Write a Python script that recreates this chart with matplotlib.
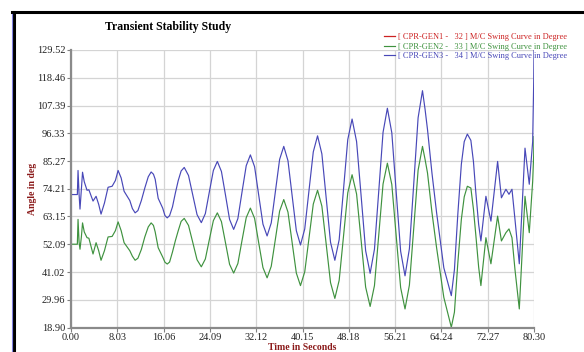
import matplotlib.pyplot as plt
from matplotlib.lines import Line2D

# time axis (s) and swing curves
time = [0.00, 1.10, 1.22, 1.40, 1.56, 1.80, 2.00, 2.30, 2.78, 3.10, 3.82, 4.35, 4.80, 5.21,
        5.80, 6.43, 7.13, 7.70, 8.17, 8.70, 9.21, 10.20, 10.65, 11.12, 11.60, 12.20, 12.80,
        13.40, 13.90, 14.30, 14.60, 15.12, 15.90, 16.30, 16.69, 17.10, 17.60, 18.10, 18.60,
        19.10, 19.64, 20.38, 21.12, 21.86, 22.60, 23.30, 23.99, 24.69, 25.38, 26.09, 26.80,
        27.50, 28.21, 28.94, 29.66, 30.39, 31.11, 31.84, 32.56, 33.29, 34.01, 34.73, 35.46,
        36.18, 36.90, 37.63, 38.35, 39.08, 39.80, 40.54, 41.28, 42.02, 42.76, 43.51, 44.26,
        45.01, 45.76, 46.51, 47.26, 48.00, 48.75, 49.53, 50.32, 51.10, 51.88, 52.63, 53.38,
        54.12, 54.87, 55.64, 56.40, 57.17, 57.93, 58.69, 59.45, 60.20, 60.96, 61.40, 61.83,
        62.60, 63.40, 64.66, 65.96, 66.50, 67.10, 67.70, 68.20, 68.74, 69.35, 69.80, 70.20,
        70.70, 71.09, 71.96, 72.83, 73.99, 74.65, 75.43, 75.96, 76.48, 77.00, 77.75, 78.74,
        79.48, 80.07, 80.25, 80.30]

gen3 = [71.9, 71.9, 81.5, 72.0, 66.1, 74.0, 80.8, 77.0, 73.6, 73.8, 69.3, 71.2, 68.0, 64.1,
        68.5, 74.8, 75.2, 77.5, 81.5, 78.5, 73.2, 69.5, 66.3, 64.6, 65.5, 69.5, 74.5,
        79.0, 80.9, 80.0, 78.0, 70.4, 66.5, 63.5, 62.6, 63.5, 67.0, 72.5, 77.5,
        81.3, 82.7, 79.5, 71.7, 63.9, 60.7, 64.3, 72.9, 81.5, 85.1, 81.1, 71.6,
        62.0, 58.0, 62.3, 72.9, 83.4, 87.7, 83.0, 71.6, 60.1, 55.4, 60.6, 73.3,
        85.9, 91.1, 85.4, 71.5, 57.5, 51.8, 58.2, 73.6, 88.9, 95.3, 88.1, 70.5,
        52.9, 45.7, 53.9, 73.9, 93.8, 102.0, 93.0, 71.3, 49.5, 40.5, 50.1, 73.4,
        96.7, 106.3, 96.5, 72.9, 49.3, 39.5, 50.3, 76.4, 102.5, 113.3, 106.0, 97.8,
        80.5, 64.8, 42.7, 31.6, 42.0, 64.5, 84.0, 93.0, 96.0, 93.5, 85.0, 73.0,
        60.0, 53.4, 71.2, 61.3, 85.1, 70.6, 74.0, 72.0, 74.0, 62.0, 44.3, 90.4,
        76.0, 93.0, 117.0, 129.5]

gen2 = [52.1, 52.1, 62.0, 53.0, 50.1, 55.0, 60.6, 57.0, 54.7, 54.5, 48.2, 52.7, 49.5, 45.7,
        49.5, 55.0, 55.2, 57.5, 61.0, 57.5, 52.7, 49.5, 47.3, 45.7, 46.5, 50.0, 55.0,
        59.0, 60.6, 59.6, 57.0, 50.7, 47.0, 44.9, 44.2, 45.0, 49.0, 53.5, 57.5,
        61.2, 62.4, 59.6, 52.8, 45.9, 43.1, 46.2, 53.9, 61.5, 64.6, 61.1, 52.6,
        44.1, 40.6, 44.4, 53.6, 62.7, 66.5, 62.4, 52.6, 42.8, 38.7, 43.3, 54.3,
        65.3, 69.9, 64.9, 52.8, 40.6, 35.6, 41.1, 54.6, 68.1, 73.6, 67.3, 52.1,
        36.8, 30.5, 37.7, 55.2, 72.6, 79.8, 72.1, 53.6, 35.0, 27.3, 35.6, 55.9,
        76.1, 84.4, 75.9, 55.4, 34.8, 26.3, 35.8, 58.7, 81.6, 91.1, 86.0, 80.5,
        64.8, 50.8, 30.9, 19.0, 25.0, 45.0, 62.0, 71.0, 75.2, 74.5, 66.0, 56.0,
        43.0, 35.6, 54.7, 44.3, 63.3, 53.4, 56.7, 58.2, 54.7, 42.0, 26.3, 71.2,
        56.7, 77.2, 88.0, 95.0]

xticks = [0.00, 8.03, 16.06, 24.09, 32.12, 40.15, 48.18, 56.21, 64.24, 72.27, 80.30]
yticks = [18.90, 29.96, 41.02, 52.09, 63.15, 74.21, 85.27, 96.33, 107.39, 118.46, 129.52]

labels = ['[ CPR-GEN1 -   32 ] M/C Swing Curve in Degree',
          '[ CPR-GEN2 -   33 ] M/C Swing Curve in Degree',
          '[ CPR-GEN3 -   34 ] M/C Swing Curve in Degree']

plt.rcParams['font.family'] = ['Liberation Serif', 'DejaVu Serif']

fig = plt.figure(figsize=(5.84, 3.52), dpi=100)
ax = fig.add_axes([71/584, 1-327.5/352, (534-71)/584, (327.5-50)/352])

# GEN1 stays off the visible range, only shown in the legend
ax.plot([], [], color='#cc2222', lw=0.9, label=labels[0])
ax.plot(time, gen2, color='#3f923f', lw=0.85, label=labels[1])
ax.plot(time, gen3, color='#4848b8', lw=0.85, label=labels[2])

ax.set_xlim(xticks[0], xticks[-1])
ax.set_ylim(yticks[0], yticks[-1])
ax.set_xticks(xticks)
ax.set_yticks(yticks)
ax.set_xticklabels(['%.2f' % v for v in xticks])
ax.set_yticklabels(['%.2f' % v for v in yticks])
ax.tick_params(labelsize=7.5, length=3, width=0.8, color='#808080', pad=1, labelcolor='#222222')
ax.grid(True, color='#d4d4d4', lw=0.9)
ax.set_axisbelow(True)
for s in ['top', 'right']:
    ax.spines[s].set_visible(False)
for s in ['left', 'bottom']:
    ax.spines[s].set_color('#8a8a8a')
    ax.spines[s].set_linewidth(1.6)

ax.set_xlabel('Time in Seconds', fontsize=7, color='#8b1a1a', fontweight='bold', labelpad=1)
ax.set_ylabel('Angle in deg', fontsize=7, color='#8b1a1a', fontweight='bold')
ax.yaxis.set_label_coords(-0.074, 0.5)

fig.text(105/584, 1-27/352, 'Transient Stability Study', fontsize=8.5, fontweight='bold',
         va='center', ha='left')

fig.legend(loc='upper left', bbox_to_anchor=(384/584, 1-33/352), frameon=False, fontsize=6,
           labelcolor='linecolor', handlelength=1.3, handletextpad=0.4, labelspacing=0.2,
           borderaxespad=0, borderpad=0)

# outer frame of the report window
fig.add_artist(Line2D([12/584, 1], [1-12/352, 1-12/352], color='black', lw=2.2,
                      transform=fig.transFigure))
fig.add_artist(Line2D([14/584, 14/584], [0, 1-12/352], color='black', lw=2.2,
                      transform=fig.transFigure))
fig.add_artist(Line2D([12/584, 12/584], [0, 1-14/352], color='#8080e0', lw=0.8,
                      transform=fig.transFigure))

fig.savefig('out.png', dpi=100)
